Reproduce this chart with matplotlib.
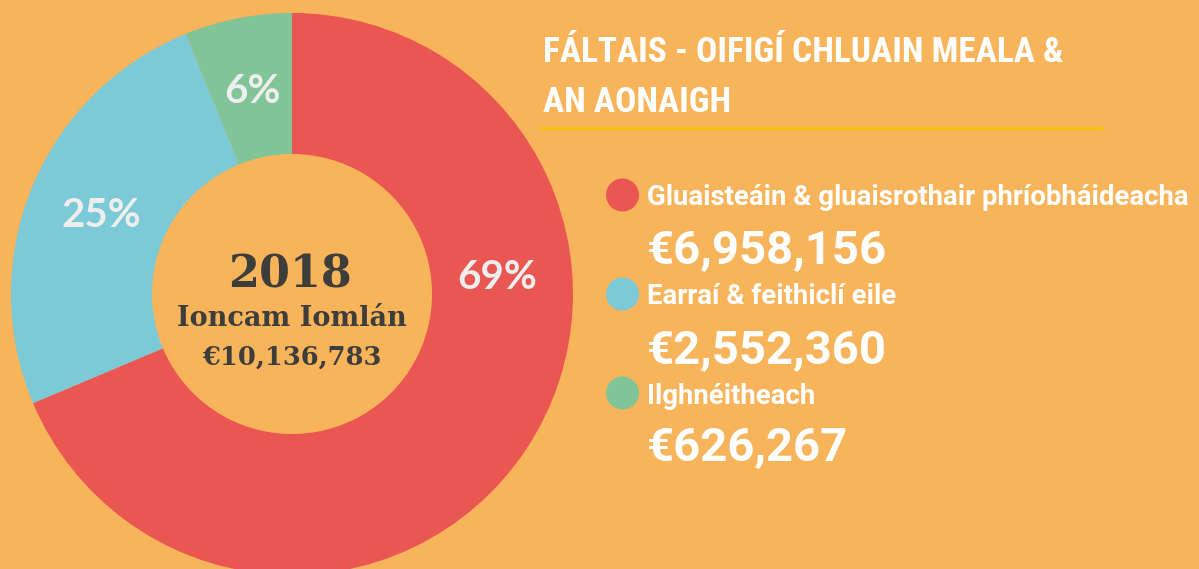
import matplotlib
matplotlib.use("Agg")
import matplotlib.pyplot as plt
from matplotlib.patches import Circle
from matplotlib import font_manager
import numpy as np

# Revenue by category
categories = ["Gluaisteáin & gluaisrothair phríobháideacha",
              "Earraí & feithiclí eile",
              "Ilghnéitheach"]
values = [6958156, 2552360, 626267]
year = "2018"
centre_caption = "Ioncam Iomlán"
title_lines = ["FÁLTAIS - OIFIGÍ CHLUAIN MEALA &", "AN AONAIGH"]

colors = ["#EA5753", "#7CC9D7", "#80C497"]
bg = "#F8B45A"
dark = "#3D3D3B"
pct_color = "#EEEEEE"

installed = {f.name for f in font_manager.fontManager.ttflist}
def pick(*names):
    for n in names:
        if n in installed:
            return n
    return "DejaVu Sans"

narrow = pick("Roboto Condensed", "Liberation Sans Narrow", "DejaVu Sans Condensed", "Roboto")
sans = pick("Roboto", "Open Sans")
serif = pick("DejaVu Serif")
pct_font = pick("Lato", "Roboto")

W, H = 1199, 569
fig = plt.figure(figsize=(W / 100, H / 100), dpi=100, facecolor=bg)
ax = fig.add_axes([0, 0, 1, 1])
ax.set_facecolor(bg)

total = sum(values)
cx, cy = 292, H - 294
r_out, r_in = 281, 140

# donut: green first from the top, then blue, then red (counter-clockwise)
wedges, _ = ax.pie(values[::-1], colors=colors[::-1], startangle=90, counterclock=True,
                   radius=r_out, center=(cx, cy),
                   wedgeprops=dict(width=r_out - r_in, linewidth=0))

# percentage labels on the ring
pcts = [round(v / total * 100) for v in values]
label_r = 206
for w, p, v in zip(wedges, pcts[::-1], values[::-1]):
    ang = (w.theta1 + w.theta2) / 2
    if v == max(values):
        ang = 4.5
    x = cx + label_r * np.cos(np.radians(ang))
    y = cy + label_r * np.sin(np.radians(ang))
    ax.text(x, y, f"{p}%", ha="center", va="center", color=pct_color,
            fontsize=29, fontweight="bold", family=pct_font)

# centre text
ax.text(290, H - 287, year, ha="center", va="baseline", color=dark,
        fontsize=32, fontweight="bold", family=serif)
ax.text(292, H - 326, centre_caption, ha="center", va="baseline", color=dark,
        fontsize=19.5, fontweight="bold", family=serif)
ax.text(292, H - 365, f"€{total:,}", ha="center", va="baseline", color=dark,
        fontsize=18.5, fontweight="bold", family=serif)

# title and rule
ax.text(543, H - 62, title_lines[0], ha="left", va="baseline", color="white",
        fontsize=25.5, fontweight="bold", family=narrow)
ax.text(543, H - 112, title_lines[1], ha="left", va="baseline", color="white",
        fontsize=25.5, fontweight="bold", family=narrow)
ax.plot([540, 1103], [H - 128, H - 128], color="#F5C400", lw=2, solid_capstyle="butt")

# legend with amounts
label_base = [205, 304, 404]
value_base = [263, 363, 460]
dot_y = [195, 294, 393]
for cat, v, c, lb, vb, dy in zip(categories, values, colors, label_base, value_base, dot_y):
    ax.add_patch(Circle((622.5, H - dy), 16.5, color=c, lw=0))
    ax.text(647, H - lb, cat, ha="left", va="baseline", color="white",
            fontsize=19.8, fontweight="bold", family=sans)
    ax.text(647, H - vb, f"€{v:,}", ha="left", va="baseline", color="white",
            fontsize=34, fontweight="bold", family=sans)

ax.set_xlim(0, W)
ax.set_ylim(0, H)
ax.set_aspect("equal")
ax.axis("off")

fig.savefig("out.png", dpi=100, facecolor=bg)
